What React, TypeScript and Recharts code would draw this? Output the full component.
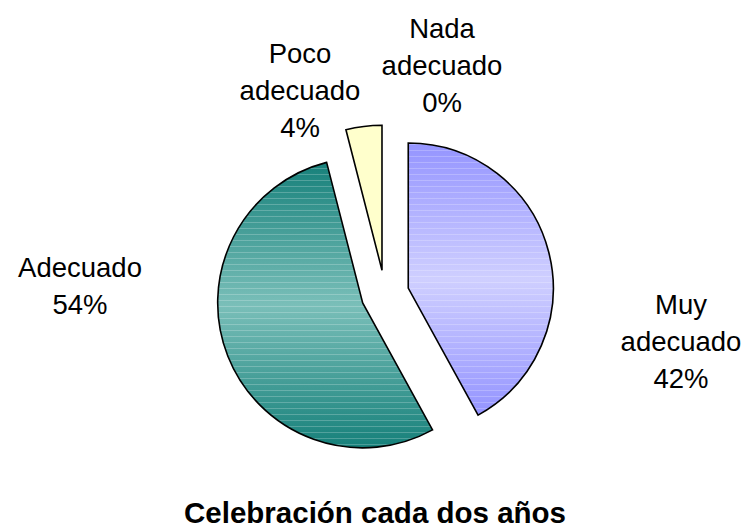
import React from 'react';
import { PieChart, Pie, Cell, Sector } from 'recharts';

const categories = ['Muy adecuado', 'Adecuado', 'Poco adecuado', 'Nada adecuado'];
const percents = [42, 54, 4, 0];
const title = 'Celebración cada dos años';

const fills = ['url(#gradMuy)', 'url(#gradAdecuado)', '#FFFFCC', '#FFFFCC'];
// label centre relative to the pie centre (Excel placed them by hand)
const labelOffsets = [
  [296, 47],
  [-305, -9],
  [-85, -204],
  [57, -229],
];

const data = categories.map((name, i) => ({ name, value: percents[i] }));

const RAD = Math.PI / 180;
const EXPLODE = 24;
const FONT = '"Liberation Sans", Arial, sans-serif';

const ExplodedSlice = (props: any) => {
  const { cx, cy, midAngle, innerRadius, outerRadius, startAngle, endAngle, value, fill } = props;
  if (!value) return <g />;
  const dx = Math.cos(-midAngle * RAD) * EXPLODE;
  const dy = Math.sin(-midAngle * RAD) * EXPLODE;
  const common = {
    cx: cx + dx,
    cy: cy + dy,
    innerRadius,
    outerRadius,
    startAngle,
    endAngle,
  };
  return (
    <g>
      <Sector {...common} fill={fill} stroke="none" />
      {fill.startsWith('url') && <Sector {...common} fill="url(#stripes)" stroke="none" />}
      <Sector {...common} fill="none" stroke="#000" strokeWidth={1.6} />
    </g>
  );
};

const renderLabel = (props: any) => {
  const { cx, cy, index, name, value } = props;
  const [ox, oy] = labelOffsets[index];
  const lines = [...name.split(' '), `${value}%`];
  const lh = 37;
  const x = cx + ox;
  const y0 = cy + oy - ((lines.length - 1) * lh) / 2 + 10;
  return (
    <text
      key={`lbl-${index}`}
      x={x}
      y={y0}
      textAnchor="middle"
      fontSize={27.5}
      fontFamily={FONT}
      fill="#000"
    >
      {lines.map((t, i) => (
        <tspan key={i} x={x} y={y0 + i * lh}>
          {t}
        </tspan>
      ))}
    </text>
  );
};

export default function App() {
  return (
    <div style={{ position: 'absolute', left: 0, top: 0, background: '#fff' }}>
      <PieChart width={744} height={531}>
        <defs>
          <linearGradient id="gradMuy" x1="0" y1="0" x2="0" y2="1">
            <stop offset="0%" stopColor="#9494FF" />
            <stop offset="50%" stopColor="#CFCFFF" />
            <stop offset="100%" stopColor="#9494FF" />
          </linearGradient>
          <linearGradient id="gradAdecuado" x1="0" y1="0" x2="0" y2="1">
            <stop offset="0%" stopColor="#16807A" />
            <stop offset="50%" stopColor="#7ABFB9" />
            <stop offset="100%" stopColor="#16807A" />
          </linearGradient>
          <pattern id="stripes" width="10" height="6" patternUnits="userSpaceOnUse">
            <rect x="0" y="0" width="10" height="1" fill="#ffffff" fillOpacity={0.22} />
          </pattern>
        </defs>
        <Pie
          data={data}
          dataKey="value"
          nameKey="name"
          cx={380}
          cy={289}
          outerRadius={145}
          startAngle={90}
          endAngle={-270}
          stroke="#000"
          shape={ExplodedSlice}
          label={renderLabel}
          labelLine={false}
          isAnimationActive={false}
        >
          {data.map((d, i) => (
            <Cell key={d.name} fill={fills[i]} />
          ))}
        </Pie>
        <text
          x={375}
          y={523}
          textAnchor="middle"
          fontSize={29.5}
          fontWeight="bold"
          fontFamily={FONT}
          fill="#000"
        >
          {title}
        </text>
      </PieChart>
    </div>
  );
}
